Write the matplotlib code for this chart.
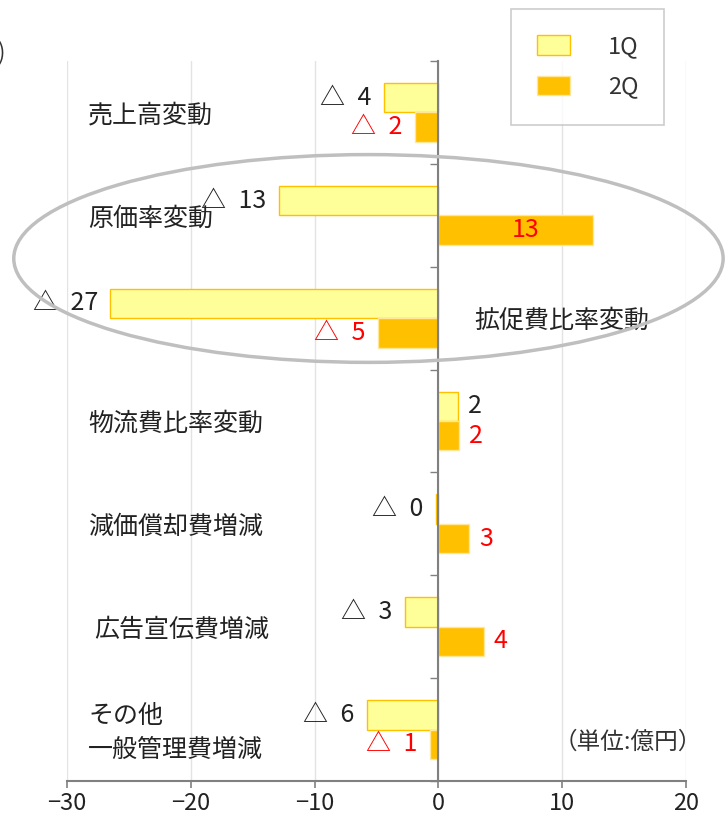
import numpy as np
import matplotlib.pyplot as plt
from matplotlib.patches import Ellipse

plt.rcParams['font.family'] = ['Noto Sans CJK JP', 'DejaVu Sans']

# データ (単位:億円)
categories = ['売上高変動', '原価率変動', '拡促費比率変動', '物流費比率変動',
              '減価償却費増減', '広告宣伝費増減', 'その他\n一般管理費増減']
q1 = [-4.4, -12.9, -26.5, 1.6, -0.2, -2.7, -5.8]
q2 = [-1.9, 12.5, -4.9, 1.7, 2.5, 3.7, -0.7]
q1_labels = ['△ 4', '△ 13', '△ 27', '2', '△ 0', '△ 3', '△ 6']
q2_labels = ['△ 2', '13', '△ 5', '2', '3', '4', '△ 1']

fig = plt.figure(figsize=(7.25, 8.19), dpi=100)
ax = fig.add_axes([67 / 725, 1 - 781 / 819, 619 / 725, 720 / 819])

y = np.arange(len(categories))
h = 0.286
ax.barh(y - h / 2, q1, height=h, color='#FFFF99', edgecolor='#FFC000', linewidth=1, label='1Q', zorder=3)
ax.barh(y + h / 2, q2, height=h, color='#FFC000', edgecolor='#FFE699', linewidth=1, label='2Q', zorder=3)

ax.set_xlim(-30, 20)
ax.set_ylim(6.5, -0.5)
ax.set_xticks([-30, -20, -10, 0, 10, 20])
ax.set_xticklabels(['−30', '−20', '−10', '0', '10', '20'], fontsize=17, color='#222222')
ax.set_yticks(np.arange(-0.5, 7, 1))
ax.set_yticklabels([])
ax.grid(axis='x', color='#e3e3e3', linewidth=1, zorder=0)
ax.spines['top'].set_visible(False)
ax.spines['right'].set_visible(False)
ax.spines['left'].set_position(('data', 0))
ax.spines['left'].set_color('#808080')
ax.spines['left'].set_linewidth(1.5)
ax.spines['left'].set_zorder(4)
ax.spines['bottom'].set_color('#808080')
ax.spines['bottom'].set_linewidth(1.5)
ax.tick_params(axis='y', direction='out', length=6, color='#808080', width=1)
ax.tick_params(axis='x', direction='out', length=5, color='#808080', width=1.2, pad=3)

# 数値ラベル
for i in range(len(categories)):
    for val, lab, yy, col in [(q1[i], q1_labels[i], y[i] - h / 2, '#222222'),
                              (q2[i], q2_labels[i], y[i] + h / 2, 'red')]:
        lab = lab.replace('△ ', '△\u2002')
        if i == 1 and val > 0:
            ax.text(val / 2 + 0.8, yy, lab, ha='center', va='center', fontsize=18, color=col, zorder=5)
        elif val < 0:
            ax.annotate(lab, (val, yy), xytext=(-9, 0), textcoords='offset points',
                        ha='right', va='center', fontsize=18, color=col, zorder=5)
        else:
            ax.annotate(lab, (val, yy), xytext=(7, 0), textcoords='offset points',
                        ha='left', va='center', fontsize=18, color=col, zorder=5)

# 項目名
label_x = [-28.3, -28.3, 2.9, -28.3, -28.3, -27.8, -28.3]
for i, cat in enumerate(categories):
    ax.text(label_x[i], y[i] + 0.03, cat, ha='left', va='center', fontsize=18,
            color='#222222', linespacing=1.4, zorder=5)

# 楕円
ell = Ellipse((-5.65, 1.42), 57.3, 2.02, fill=False, edgecolor='#bfbfbf',
              linewidth=2.5, clip_on=False, zorder=6)
ax.add_patch(ell)

fig.text(702 / 725, 1 - 742 / 819, '（単位:億円）', ha='right', va='center', fontsize=17, color='#333333')
# 左上の見切れた単位表記
fig.text(5 / 725, 1 - 53 / 819, '(億円)', ha='right', va='center', fontsize=16, color='#333333')

leg = fig.legend(loc='upper left', bbox_to_anchor=(511 / 725, 1 - 9 / 819), fontsize=17,
                 frameon=True, fancybox=False, edgecolor='#c0c0c0', borderpad=1.1,
                 handlelength=1.4, handleheight=0.9, handletextpad=1.6, labelspacing=0.75,
                 borderaxespad=0)
leg.get_frame().set_linewidth(1.2)
for t in leg.get_texts():
    t.set_color('#333333')

fig.savefig('out.png', dpi=100)
